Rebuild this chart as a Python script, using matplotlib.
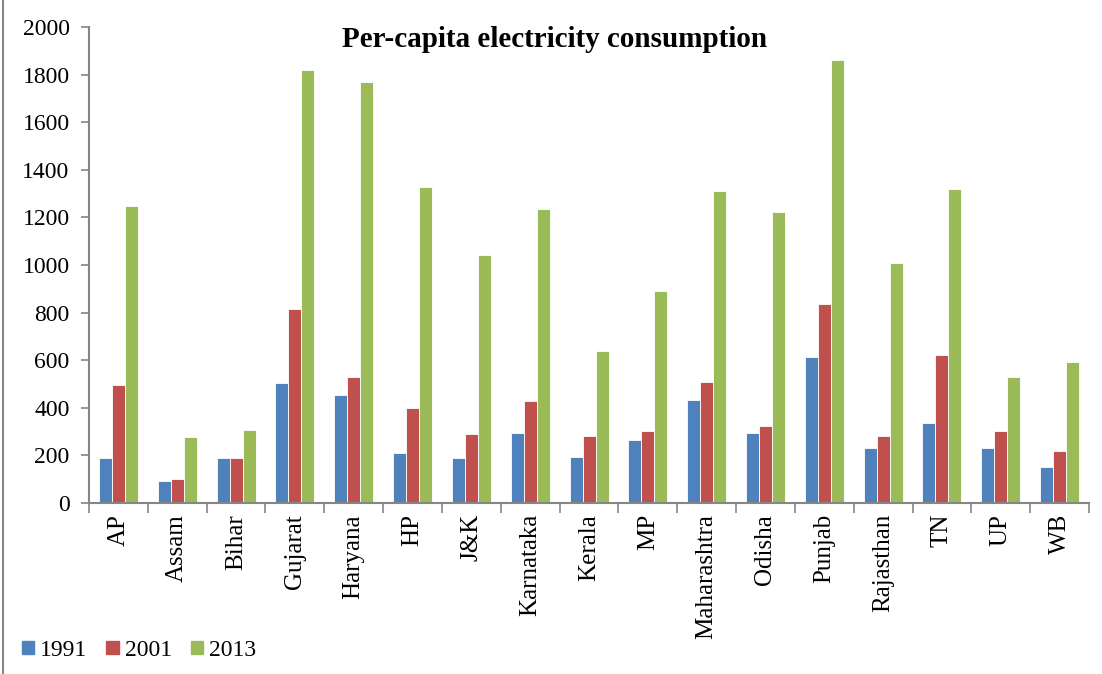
import numpy as np
import matplotlib
matplotlib.use('Agg')
import matplotlib.pyplot as plt
from matplotlib.lines import Line2D

states = ['AP', 'Assam', 'Bihar', 'Gujarat', 'Haryana', 'HP', 'J&K', 'Karnataka',
          'Kerala', 'MP', 'Maharashtra', 'Odisha', 'Punjab', 'Rajasthan', 'TN', 'UP', 'WB']
pc_1991 = [190, 92, 190, 504, 455, 209, 188, 295, 195, 265, 433, 294, 615, 230, 335, 230, 150]
pc_2001 = [495, 100, 190, 815, 530, 398, 291, 427, 280, 302, 507, 323, 835, 283, 622, 301, 217]
pc_2013 = [1248, 277, 305, 1819, 1770, 1327, 1040, 1236, 637, 891, 1312, 1221, 1861, 1008, 1321, 529, 591]
years = ['1991', '2001', '2013']
colors = ['#4F81BD', '#C0504D', '#9BBB59']

plt.rcParams['font.family'] = ['Liberation Serif', 'DejaVu Serif']
axis_gray = '#868686'

fig = plt.figure(figsize=(11.02, 6.74), dpi=100)
ax = fig.add_axes([89 / 1102, (674 - 503) / 674, 1000 / 1102, 476 / 674])

x = np.arange(len(states))
w = 0.221
for i, (vals, c, lab) in enumerate(zip([pc_1991, pc_2001, pc_2013], colors, years)):
    ax.bar(x + (i - 1) * w, vals, width=w, color=c, edgecolor='white',
           linewidth=0.6, label=lab, zorder=2)

ax.set_xlim(-0.5, len(states) - 0.5)
ax.set_ylim(0, 2000)
ax.set_yticks(range(0, 2001, 200))
ax.tick_params(axis='y', labelsize=17, length=6, width=1.2, color=axis_gray, pad=8)

# category ticks sit between groups, labels at group centres
ax.set_xticks(np.arange(-0.5, len(states), 1.0))
ax.set_xticklabels([])
ax.set_xticks(x, minor=True)
ax.set_xticklabels(states, minor=True, rotation=90, fontsize=18)
ax.tick_params(axis='x', which='major', length=7, width=1.2, color=axis_gray)
ax.tick_params(axis='x', which='minor', length=0, pad=8)

for side in ['top', 'right']:
    ax.spines[side].set_visible(False)
for side in ['left', 'bottom']:
    ax.spines[side].set_color(axis_gray)
    ax.spines[side].set_linewidth(1.5)

fig.text(0.503, 0.942, 'Per-capita electricity consumption', ha='center', va='center',
         fontsize=21, fontweight='bold')

handles = [plt.Rectangle((0, 0), 1, 1, color=c) for c in colors]
fig.legend(handles, years, loc='center left', bbox_to_anchor=(0.0115, 0.035), ncol=3,
           frameon=False, fontsize=17, handlelength=0.52, handleheight=0.52,
           handletextpad=0.25, columnspacing=0.8, borderaxespad=0)

# outer chart-area border on the left edge
fig.add_artist(Line2D([3 / 1102, 3 / 1102], [0, 1], transform=fig.transFigure,
                      color=axis_gray, linewidth=1.5))

fig.savefig('out.png', dpi=100)
